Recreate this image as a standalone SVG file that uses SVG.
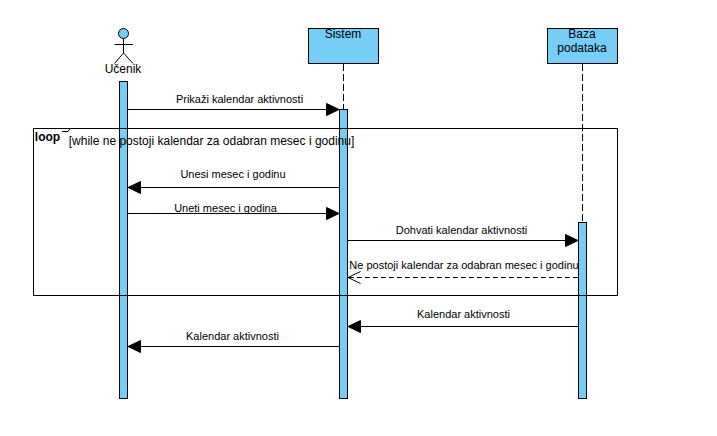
<svg xmlns="http://www.w3.org/2000/svg" width="717" height="436" viewBox="0 0 717 436">
<style>
text{font-family:"Liberation Sans",Arial,sans-serif;font-size:11px;fill:#000;text-anchor:middle}
.box{fill:#76cdf5;stroke:#000;stroke-width:1}
.act{fill:#76cdf5;stroke:#000;stroke-width:1}
.ln{fill:none;stroke:#000;stroke-width:1}
.dash{fill:none;stroke:#000;stroke-width:1;stroke-dasharray:7 3}
.ret{fill:none;stroke:#000;stroke-width:1;stroke-dasharray:5 3}
.big{font-size:12px}
</style>
<defs>
<marker id="solid" markerUnits="userSpaceOnUse" markerWidth="15" markerHeight="15" refX="13" refY="7.5" orient="auto"><path d="M0.5 1.500 L13 7.500 L0.5 13.500 Z" fill="#000" stroke="#000"/></marker>
<marker id="open" markerUnits="userSpaceOnUse" markerWidth="15" markerHeight="15" refX="13" refY="7.5" orient="auto"><path d="M0.5 1.500 L13 7.500 L0.5 13.500" fill="none" stroke="#000"/></marker>
</defs>
<g id="lifelines">
<path class="dash" d="M343.500 64V109"/>
<path class="dash" d="M582.500 64V222"/>
</g>
<g id="actor-ucenik">
<circle class="box" cx="123.500" cy="33.500" r="5"/>
<path class="ln" d="M123.500 38.500V53M114.500 44.500H133M123.500 53L114.500 63.500M123.500 53L133 63.500"/>
<text class="big" x="123" y="73">Učenik</text>
<rect class="act" x="119.500" y="81.500" width="8" height="317"/>
</g>
<g id="node-sistem">
<rect class="box" x="308.500" y="28.500" width="70" height="35"/>
<text class="big" x="343" y="38">Sistem</text>
<rect class="act" x="339.500" y="109.500" width="8" height="289"/>
</g>
<g id="node-baza">
<rect class="box" x="547.500" y="28.500" width="70" height="35"/>
<text class="big" x="582" y="38">Baza</text>
<text class="big" x="582" y="52">podataka</text>
<rect class="act" x="578.500" y="222.500" width="8" height="176"/>
</g>
<g id="frame-loop">
<rect class="ln" x="33.500" y="128.500" width="584" height="167"/>
<path class="ln" d="M62 131.500H68L70 128.500"/>
<text x="47.500" y="141" style="font-weight:bold;font-size:12px">loop</text>
<text class="big" x="211.500" y="145">[while ne postoji kalendar za odabran mesec i godinu]</text>
</g>
<g id="connectors">
<line class="ln" x1="127" y1="109.500" x2="339" y2="109.500" marker-end="url(#solid)"/>
<line class="ln" x1="339" y1="187.500" x2="128" y2="187.500" marker-end="url(#solid)"/>
<line class="ln" x1="127" y1="213.500" x2="339" y2="213.500" marker-end="url(#solid)"/>
<line class="ln" x1="347" y1="240.500" x2="578" y2="240.500" marker-end="url(#solid)"/>
<line class="ret" x1="578" y1="277.500" x2="348" y2="277.500" marker-end="url(#open)"/>
<line class="ln" x1="578" y1="326.500" x2="348" y2="326.500" marker-end="url(#solid)"/>
<line class="ln" x1="339" y1="346.500" x2="128" y2="346.500" marker-end="url(#solid)"/>
</g>
<g id="labels">
<text x="239.500" y="103">Prikaži kalendar aktivnosti</text>
<text x="233" y="178">Unesi mesec i godinu</text>
<text x="225.500" y="212">Uneti mesec i godina</text>
<text x="461.500" y="234">Dohvati kalendar aktivnosti</text>
<text x="464" y="269">Ne postoji kalendar za odabran mesec i godinu</text>
<text x="463.500" y="318">Kalendar aktivnosti</text>
<text x="232.500" y="340">Kalendar aktivnosti</text>
</g>
</svg>
